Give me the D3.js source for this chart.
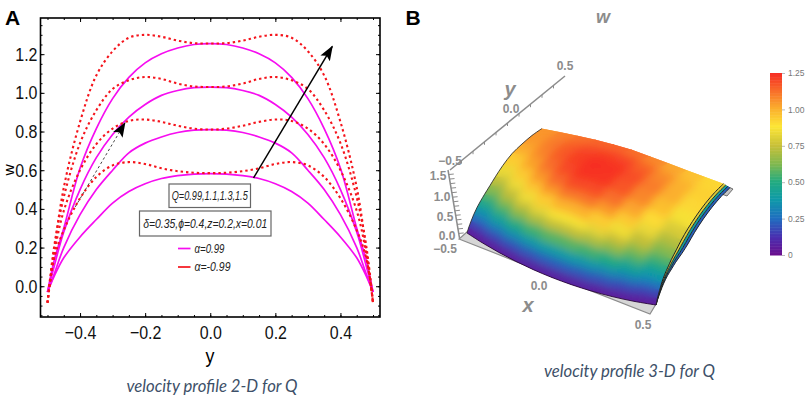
<!DOCTYPE html>
<html>
<head>
<meta charset="utf-8">
<script src="https://cdn.jsdelivr.net/npm/d3@7"></script>
<style>
body { margin: 0; background: #fff; }
svg { display: block; }
.tall { font-family: "Liberation Sans", sans-serif; }
.grey3d { font-family: "Liberation Sans", sans-serif; font-weight: bold; fill: #8c8c8c; }
.caption { font-family: Lato, sans-serif; font-style: italic; font-size: 16.7px; fill: #3d5068; }
</style>
</head>
<body>
<div id="chart"></div>
<script>
// ---- panel A data: half profiles, mirrored around y=0 ----
var halfY = [-0.5, -0.48, -0.45, -0.4, -0.35, -0.3, -0.25, -0.2, -0.15, -0.1, -0.05, 0];
var magenta099 = [-0.03, 0.05, 0.147, 0.255, 0.345, 0.43, 0.49, 0.53, 0.557, 0.572, 0.58, 0.582];
var magenta110 = [-0.03, 0.06, 0.2, 0.37, 0.5, 0.6, 0.69, 0.74, 0.772, 0.795, 0.807, 0.81];
var magenta130 = [-0.03, 0.1, 0.28, 0.5, 0.665, 0.785, 0.875, 0.94, 0.987, 1.012, 1.027, 1.03];
var magenta150 = [-0.03, 0.13, 0.3, 0.61, 0.815, 0.97, 1.08, 1.155, 1.202, 1.232, 1.25, 1.255];
var red099 = [-0.085, 0.14, 0.29, 0.455, 0.565, 0.625, 0.642, 0.632, 0.61, 0.595, 0.587, 0.585];
var red110 = [-0.085, 0.16, 0.39, 0.6, 0.735, 0.815, 0.855, 0.862, 0.85, 0.83, 0.815, 0.81];
var red130 = [-0.085, 0.2, 0.46, 0.74, 0.91, 1.02, 1.065, 1.082, 1.072, 1.048, 1.033, 1.03];
var red150 = [-0.085, 0.18, 0.51, 0.85, 1.09, 1.215, 1.285, 1.3, 1.29, 1.27, 1.257, 1.255];

var xTicksA = [-0.4, -0.2, 0, 0.2, 0.4];
var yTicksA = [0, 0.2, 0.4, 0.6, 0.8, 1.0, 1.2];

// ---- panel B data: w over the grid, rows are y, columns are x ----
var surfaceX = [-0.5, -0.4, -0.3, -0.2, -0.1, 0, 0.1, 0.2, 0.3, 0.4, 0.5];
var surfaceY = [-0.5, -0.48, -0.45, -0.42, -0.38, -0.34, -0.3, -0.24, -0.18, -0.1, 0, 0.1, 0.2, 0.3];
var wallBow = [0, 0.036, 0.064, 0.084, 0.096, 0.1, 0.096, 0.084, 0.064, 0.036, 0];
var surfaceW = [
    [0, 0, 0, 0, 0, 0, 0, 0, 0, 0, 0],
    [.08, .10, .11, .12, .13, .13, .13, .12, .11, .10, .09],
    [.18, .21, .25, .28, .29, .30, .29, .28, .26, .23, .20],
    [.27, .32, .38, .43, .46, .48, .46, .43, .39, .34, .30],
    [.37, .45, .53, .60, .65, .68, .65, .61, .55, .47, .40],
    [.45, .55, .64, .73, .79, .82, .79, .74, .66, .56, .47],
    [.52, .63, .74, .84, .91, .95, .91, .84, .75, .64, .54],
    [.62, .74, .85, .96, 1.04, 1.08, 1.04, .96, .85, .73, .62],
    [.72, .84, .95, 1.05, 1.13, 1.17, 1.13, 1.04, .93, .81, .70],
    [.84, .94, 1.04, 1.14, 1.21, 1.24, 1.20, 1.11, 1.00, .88, .78],
    [.95, 1.02, 1.11, 1.19, 1.24, 1.25, 1.23, 1.15, 1.05, .94, .85],
    [1.0, 1.07, 1.14, 1.20, 1.24, 1.25, 1.22, 1.14, 1.05, .97, .89],
    [1.03, 1.08, 1.13, 1.17, 1.19, 1.19, 1.16, 1.09, 1.01, .96, .90],
    [1.03, 1.06, 1.08, 1.10, 1.10, 1.09, 1.05, 1.01, .96, .92, .88]
];
var colorStops = [0, 0.12, 0.25, 0.38, 0.5, 0.62, 0.75, 0.88, 1.0, 1.12, 1.25];
var colorValues = ["#6a0f8e", "#4a2fb0", "#1f6fc0", "#0f9aa8", "#22ab80", "#7fb850", "#c8c038", "#fde636", "#fbb02d", "#f8702a", "#f72a22"];
var legendTicks = [0, 0.25, 0.5, 0.75, 1.0, 1.25];
var ribbonLevels = [0.8, 0.42, 0.22];

var width = 809, height = 397;
var svg = d3.select("#chart").append("svg").attr("width", width).attr("height", height);

// squeeze text to look like the condensed labels of the original
function squeeze(sel, factor) {
    sel.each(function () {
        d3.select(this).attr("textLength", this.getComputedTextLength() * factor)
            .attr("lengthAdjust", "spacingAndGlyphs");
    });
}

// ---- panel A ----
var left = 40.5, right = 380, top_ = 18, bottom = 317;
var xScale = d3.scaleLinear().domain([-0.5215, 0.5215]).range([left, right]);
var yScale = d3.scaleLinear().domain([-0.159, 1.387]).range([bottom, top_]);

var yFull = halfY.concat(halfY.slice(0, -1).reverse().map(function (d) { return -d; }));
function mirror(a) { return a.concat(a.slice(0, -1).reverse()); }

var line = d3.line()
    .x(function (d, i) { return xScale(yFull[i]); })
    .y(function (d) { return yScale(d); })
    .curve(d3.curveCatmullRom.alpha(0.5));

var minorX = d3.range(-0.5, 0.51, 0.05).map(function (d) { return +d.toFixed(2); });
var minorY = d3.range(-0.15, 1.36, 0.05).map(function (d) { return +d.toFixed(2); });
var fmt = d3.format(".1f");

function frameAxis(axis, values, size, transform, labels) {
    var g = svg.append("g").attr("transform", transform)
        .call(axis.tickValues(values).tickSize(size).tickFormat(labels ? fmt : ""));
    g.select(".domain").remove();
    g.selectAll("line").attr("stroke", "#000").attr("stroke-width", 1);
    return g;
}
frameAxis(d3.axisBottom(xScale), minorX, -2, "translate(0," + bottom + ")", false);
frameAxis(d3.axisTop(xScale), minorX, -2, "translate(0," + top_ + ")", false);
frameAxis(d3.axisLeft(yScale), minorY, -2, "translate(" + left + ",0)", false);
frameAxis(d3.axisRight(yScale), minorY, -2, "translate(" + right + ",0)", false);
frameAxis(d3.axisTop(xScale), xTicksA, -4, "translate(0," + top_ + ")", false);
frameAxis(d3.axisRight(yScale), yTicksA, -4, "translate(" + right + ",0)", false);

var xAxisA = frameAxis(d3.axisBottom(xScale).tickPadding(9), xTicksA, -4, "translate(0," + bottom + ")", true);
var yAxisA = frameAxis(d3.axisLeft(yScale).tickPadding(3), yTicksA, -4, "translate(" + left + ",0)", true);
[xAxisA, yAxisA].forEach(function (g) {
    var t = g.selectAll("text").attr("class", "tall").attr("font-size", 19).attr("fill", "#111");
    squeeze(t, 0.84);
});

svg.append("rect").attr("x", left).attr("y", top_).attr("width", right - left).attr("height", bottom - top_)
    .attr("fill", "none").attr("stroke", "#000").attr("stroke-width", 1.6);

[magenta099, magenta110, magenta130, magenta150].forEach(function (s) {
    svg.append("path").attr("d", line(mirror(s))).attr("fill", "none")
        .attr("stroke", "#f60df0").attr("stroke-width", 1.7);
});
[red099, red110, red130, red150].forEach(function (s) {
    svg.append("path").attr("d", line(mirror(s))).attr("fill", "none")
        .attr("stroke", "#f5141c").attr("stroke-width", 2.1).attr("stroke-dasharray", "2.4 3");
});

// arrows
svg.append("defs").append("marker").attr("id", "head").attr("viewBox", "0 0 15 11")
    .attr("refX", 14).attr("refY", 5.5).attr("markerWidth", 15).attr("markerHeight", 11)
    .attr("markerUnits", "userSpaceOnUse").attr("orient", "auto")
    .append("path").attr("d", "M0,0L15,5.5L0,11L3,5.5Z").attr("fill", "#000");

function arrow(a, b, stroke, w, dash) {
    svg.append("line")
        .attr("x1", xScale(a[0])).attr("y1", yScale(a[1]))
        .attr("x2", xScale(b[0])).attr("y2", yScale(b[1]))
        .attr("stroke", stroke).attr("stroke-width", w)
        .attr("stroke-dasharray", dash).attr("marker-end", "url(#head)");
}
arrow([0.133, 0.56], [0.375, 1.24], "#000", 1.5, null);
arrow([-0.415, 0.41], [-0.262, 0.845], "#444", 1, "2.5 2.5");

// text boxes
function box(x, y, w, h, label, size, len) {
    svg.append("rect").attr("x", x).attr("y", y).attr("width", w).attr("height", h)
        .attr("fill", "#fff").attr("stroke", "#666").attr("stroke-width", 1.2);
    svg.append("text").attr("class", "tall").attr("x", x + w / 2).attr("y", y + h / 2 + 4.5)
        .attr("text-anchor", "middle").attr("font-style", "italic").attr("font-size", size)
        .attr("fill", "#222").attr("textLength", len).attr("lengthAdjust", "spacingAndGlyphs").text(label);
}
box(169, 184, 81.5, 23.5, "Q=0.99,1.1,1.3,1.5", 13, 76);
box(139.5, 211, 131.5, 25, "δ=0.35,ϕ=0.4,z=0.2,x=0.01", 13, 124);

[["#f60df0", "α=0.99", 248.5, 30], ["#f5141c", "α=-0.99", 267, 36]].forEach(function (d) {
    svg.append("line").attr("x1", 178).attr("x2", 190.5).attr("y1", d[2]).attr("y2", d[2])
        .attr("stroke", d[0]).attr("stroke-width", 1.7);
    svg.append("text").attr("class", "tall").attr("x", 194.5).attr("y", d[2] + 4)
        .attr("font-style", "italic").attr("font-size", 12).attr("fill", "#222")
        .attr("textLength", d[3]).attr("lengthAdjust", "spacingAndGlyphs").text(d[1]);
});

svg.append("text").attr("x", 12.5).attr("y", 24.5).attr("text-anchor", "middle")
    .attr("font-family", "Liberation Sans").attr("font-weight", "bold").attr("font-size", 21).text("A");
svg.append("text").attr("class", "tall").attr("font-size", 15.5).attr("text-anchor", "middle")
    .attr("transform", "translate(14,170) rotate(-90)").text("w");
squeeze(svg.append("text").attr("class", "tall").attr("font-size", 21).attr("text-anchor", "middle")
    .attr("x", 210).attr("y", 363).text("y"), 0.85);
svg.append("text").attr("class", "caption").attr("text-anchor", "middle").attr("x", 212).attr("y", 392)
    .text("velocity profile 2-D for Q");

// ---- panel B ----
svg.append("text").attr("x", 413).attr("y", 24.5).attr("text-anchor", "middle")
    .attr("font-family", "Liberation Sans").attr("font-weight", "bold").attr("font-size", 21).text("B");

var color = d3.scaleLinear().domain(colorStops).range(colorValues);

// projection of the 3-D box on the page
var nearEdge = d3.scaleLinear().domain([-0.5, 0.5]).range([[467, 233], [656, 305]]);
var depth = d3.scaleLinear().domain([-0.5, 0.5]).range([[100, -70], [90, -100]]);
var lift = [-5, -47];

function project(x, y, w) {
    var n = nearEdge(x), e = depth(x);
    return [n[0] + (y + 0.5) * e[0] + w * lift[0], n[1] + (y + 0.5) * e[1] + w * lift[1]];
}
function bowed(j, i) {
    var y = surfaceY[i];
    return y - wallBow[j] * (0.3 - y) / 0.8;
}
function gridPoint(j, i) {
    return project(surfaceX[j], bowed(j, i), surfaceW[i][j]);
}

var cells = [];
for (var i = surfaceY.length - 2; i >= 0; i--) {
    for (var j = 0; j < surfaceX.length - 1; j++) {
        cells.push({
            pts: [gridPoint(j, i), gridPoint(j + 1, i), gridPoint(j + 1, i + 1), gridPoint(j, i + 1)],
            w: d3.mean([surfaceW[i][j], surfaceW[i][j + 1], surfaceW[i + 1][j], surfaceW[i + 1][j + 1]])
        });
    }
}
function polyPath(d) { return "M" + d.join("L") + "Z"; }

// surface edges
var lastCol = surfaceX.length - 1, lastRow = surfaceY.length - 1;
var leftEdge = surfaceY.map(function (y, i) { return gridPoint(0, i); });
var rightEdge = surfaceY.map(function (y, i) { return gridPoint(lastCol, i); });
var bottomEdge = surfaceX.map(function (x, j) { return gridPoint(j, 0); });
var topEdge = surfaceX.map(function (x, j) { return gridPoint(j, lastRow); });
var outline = bottomEdge.concat(rightEdge, topEdge.slice().reverse(), leftEdge.slice().reverse());

var defs = svg.select("defs");
defs.append("filter").attr("id", "soft").attr("x", "-10%").attr("y", "-10%").attr("width", "120%").attr("height", "120%")
    .append("feGaussianBlur").attr("stdDeviation", 4.5);
defs.append("clipPath").attr("id", "surfaceClip").append("path").attr("d", polyPath(outline));

// grey floor
svg.append("path").attr("d", polyPath([[459, 239], [650, 314], [656, 304], [467, 232]]))
    .attr("fill", "#d6d6d6").attr("stroke", "#8c8c8c").attr("stroke-width", 1.2);

// side sheets along the x=0.5 edge
function sheet(k) {
    return surfaceY.map(function (y, i) {
        var p = gridPoint(lastCol, i), t = Math.min(1, (y + 0.5) / 0.3);
        return [p[0] + k * 2.2 * t, p[1] + k * 1.3 * t];
    });
}
var edgeLine = d3.line().curve(d3.curveCatmullRom);
svg.append("path")
    .attr("d", polyPath([[719, 183], [733, 189], [727, 196], [716, 192]]))
    .attr("fill", "#c4c4c4").attr("stroke", "#555").attr("stroke-width", 0.8);
[3, 2, 1].forEach(function (k) {
    var outer = sheet(k), inner = sheet(k - 1).reverse();
    svg.append("path").attr("d", polyPath(outer.concat(inner)))
        .attr("fill", color(ribbonLevels[k - 1])).attr("stroke", "none");
    svg.append("path").attr("d", edgeLine(outer)).attr("fill", "none")
        .attr("stroke", "#1a1a1a").attr("stroke-width", 0.9);
});

// the surface: flat cells below, softened copy on top, both inside the outline
var surface = svg.append("g").attr("clip-path", "url(#surfaceClip)");
function drawCells(g) {
    g.selectAll("path").data(cells).enter().append("path")
        .attr("d", function (d) { return polyPath(d.pts); })
        .attr("fill", function (d) { return color(d.w); })
        .attr("stroke", function (d) { return color(d.w); })
        .attr("stroke-width", 1);
}
drawCells(surface.append("g"));
drawCells(surface.append("g").attr("filter", "url(#soft)"));

svg.append("path").attr("d", edgeLine(leftEdge)).attr("fill", "none").attr("stroke", "#333").attr("stroke-width", 0.9);
svg.append("path").attr("d", edgeLine(rightEdge)).attr("fill", "none").attr("stroke", "#222").attr("stroke-width", 1);
svg.append("path").attr("d", edgeLine(bottomEdge)).attr("fill", "none").attr("stroke", "#2a0a3a").attr("stroke-width", 0.9);

// 3-D box axes
var yEdge = d3.scaleLinear().domain([-0.5, 0.5]).range([[450, 170], [565, 76]]);
var zEdge = d3.scaleLinear().domain([0, 1.5]).range([[459.5, 238], [448, 170]]);

function edgeAxis(scale, values, dx, dy) {
    var dom = scale.domain();
    svg.append("line")
        .attr("x1", scale(dom[0])[0]).attr("y1", scale(dom[0])[1])
        .attr("x2", scale(dom[1])[0]).attr("y2", scale(dom[1])[1])
        .attr("stroke", "#8c8c8c").attr("stroke-width", 1.5);
    svg.selectAll(null).data(values).enter().append("line")
        .attr("x1", function (d) { return scale(d)[0]; })
        .attr("y1", function (d) { return scale(d)[1]; })
        .attr("x2", function (d) { return scale(d)[0] + dx; })
        .attr("y2", function (d) { return scale(d)[1] + dy; })
        .attr("stroke", "#8c8c8c").attr("stroke-width", 1);
}
edgeAxis(yEdge, d3.range(-0.4, 0.5, 0.1), 0, 3);
edgeAxis(zEdge, d3.range(0.1, 1.5, 0.1), 5, -0.5);

var greyLabels = [
    ["0.5", 565, 70, 12], ["0.0", 511, 113, 12], ["−0.5", 450, 165, 12],
    ["1.5", 438, 180, 12], ["1.0", 442, 201, 12], ["0.5", 445, 221, 12], ["0.0", 447, 240, 12], ["−0.5", 445, 253, 12],
    ["0.0", 539, 290, 12], ["0.5", 643, 329, 12]
];
greyLabels.forEach(function (d) {
    svg.append("text").attr("class", "grey3d").attr("x", d[1]).attr("y", d[2])
        .attr("text-anchor", "middle").attr("font-size", d[3]).text(d[0]);
});
[["w", 603, 23, 18], ["y", 510, 96, 20], ["x", 528, 312, 20]].forEach(function (d) {
    svg.append("text").attr("class", "grey3d").attr("x", d[1]).attr("y", d[2])
        .attr("text-anchor", "middle").attr("font-style", "italic").attr("font-size", d[3]).text(d[0]);
});
svg.append("text").attr("class", "caption").attr("text-anchor", "middle").attr("x", 629.5).attr("y", 377)
    .text("velocity profile 3-D for Q");

// colour bar
var barScale = d3.scaleLinear().domain([0, 1.25]).range([255, 73]);
var barSteps = d3.range(0, 1.25, 0.01);
svg.append("g").selectAll("rect").data(barSteps).enter().append("rect")
    .attr("x", 770).attr("width", 12)
    .attr("y", function (d) { return barScale(d + 0.01); })
    .attr("height", function (d) { return barScale(d) - barScale(d + 0.01) + 0.5; })
    .attr("fill", function (d) { return color(d); });
var barAxis = svg.append("g").attr("transform", "translate(782,0)")
    .call(d3.axisRight(barScale).tickValues(legendTicks).tickSize(3).tickPadding(3)
        .tickFormat(function (d) { return d === 0 ? "0" : d3.format(".2f")(d); }));
barAxis.select(".domain").remove();
barAxis.selectAll("line").attr("stroke", "#bbb");
barAxis.selectAll("text").attr("font-family", "Liberation Sans").attr("font-size", 8.5).attr("fill", "#777");
</script>
</body>
</html>
